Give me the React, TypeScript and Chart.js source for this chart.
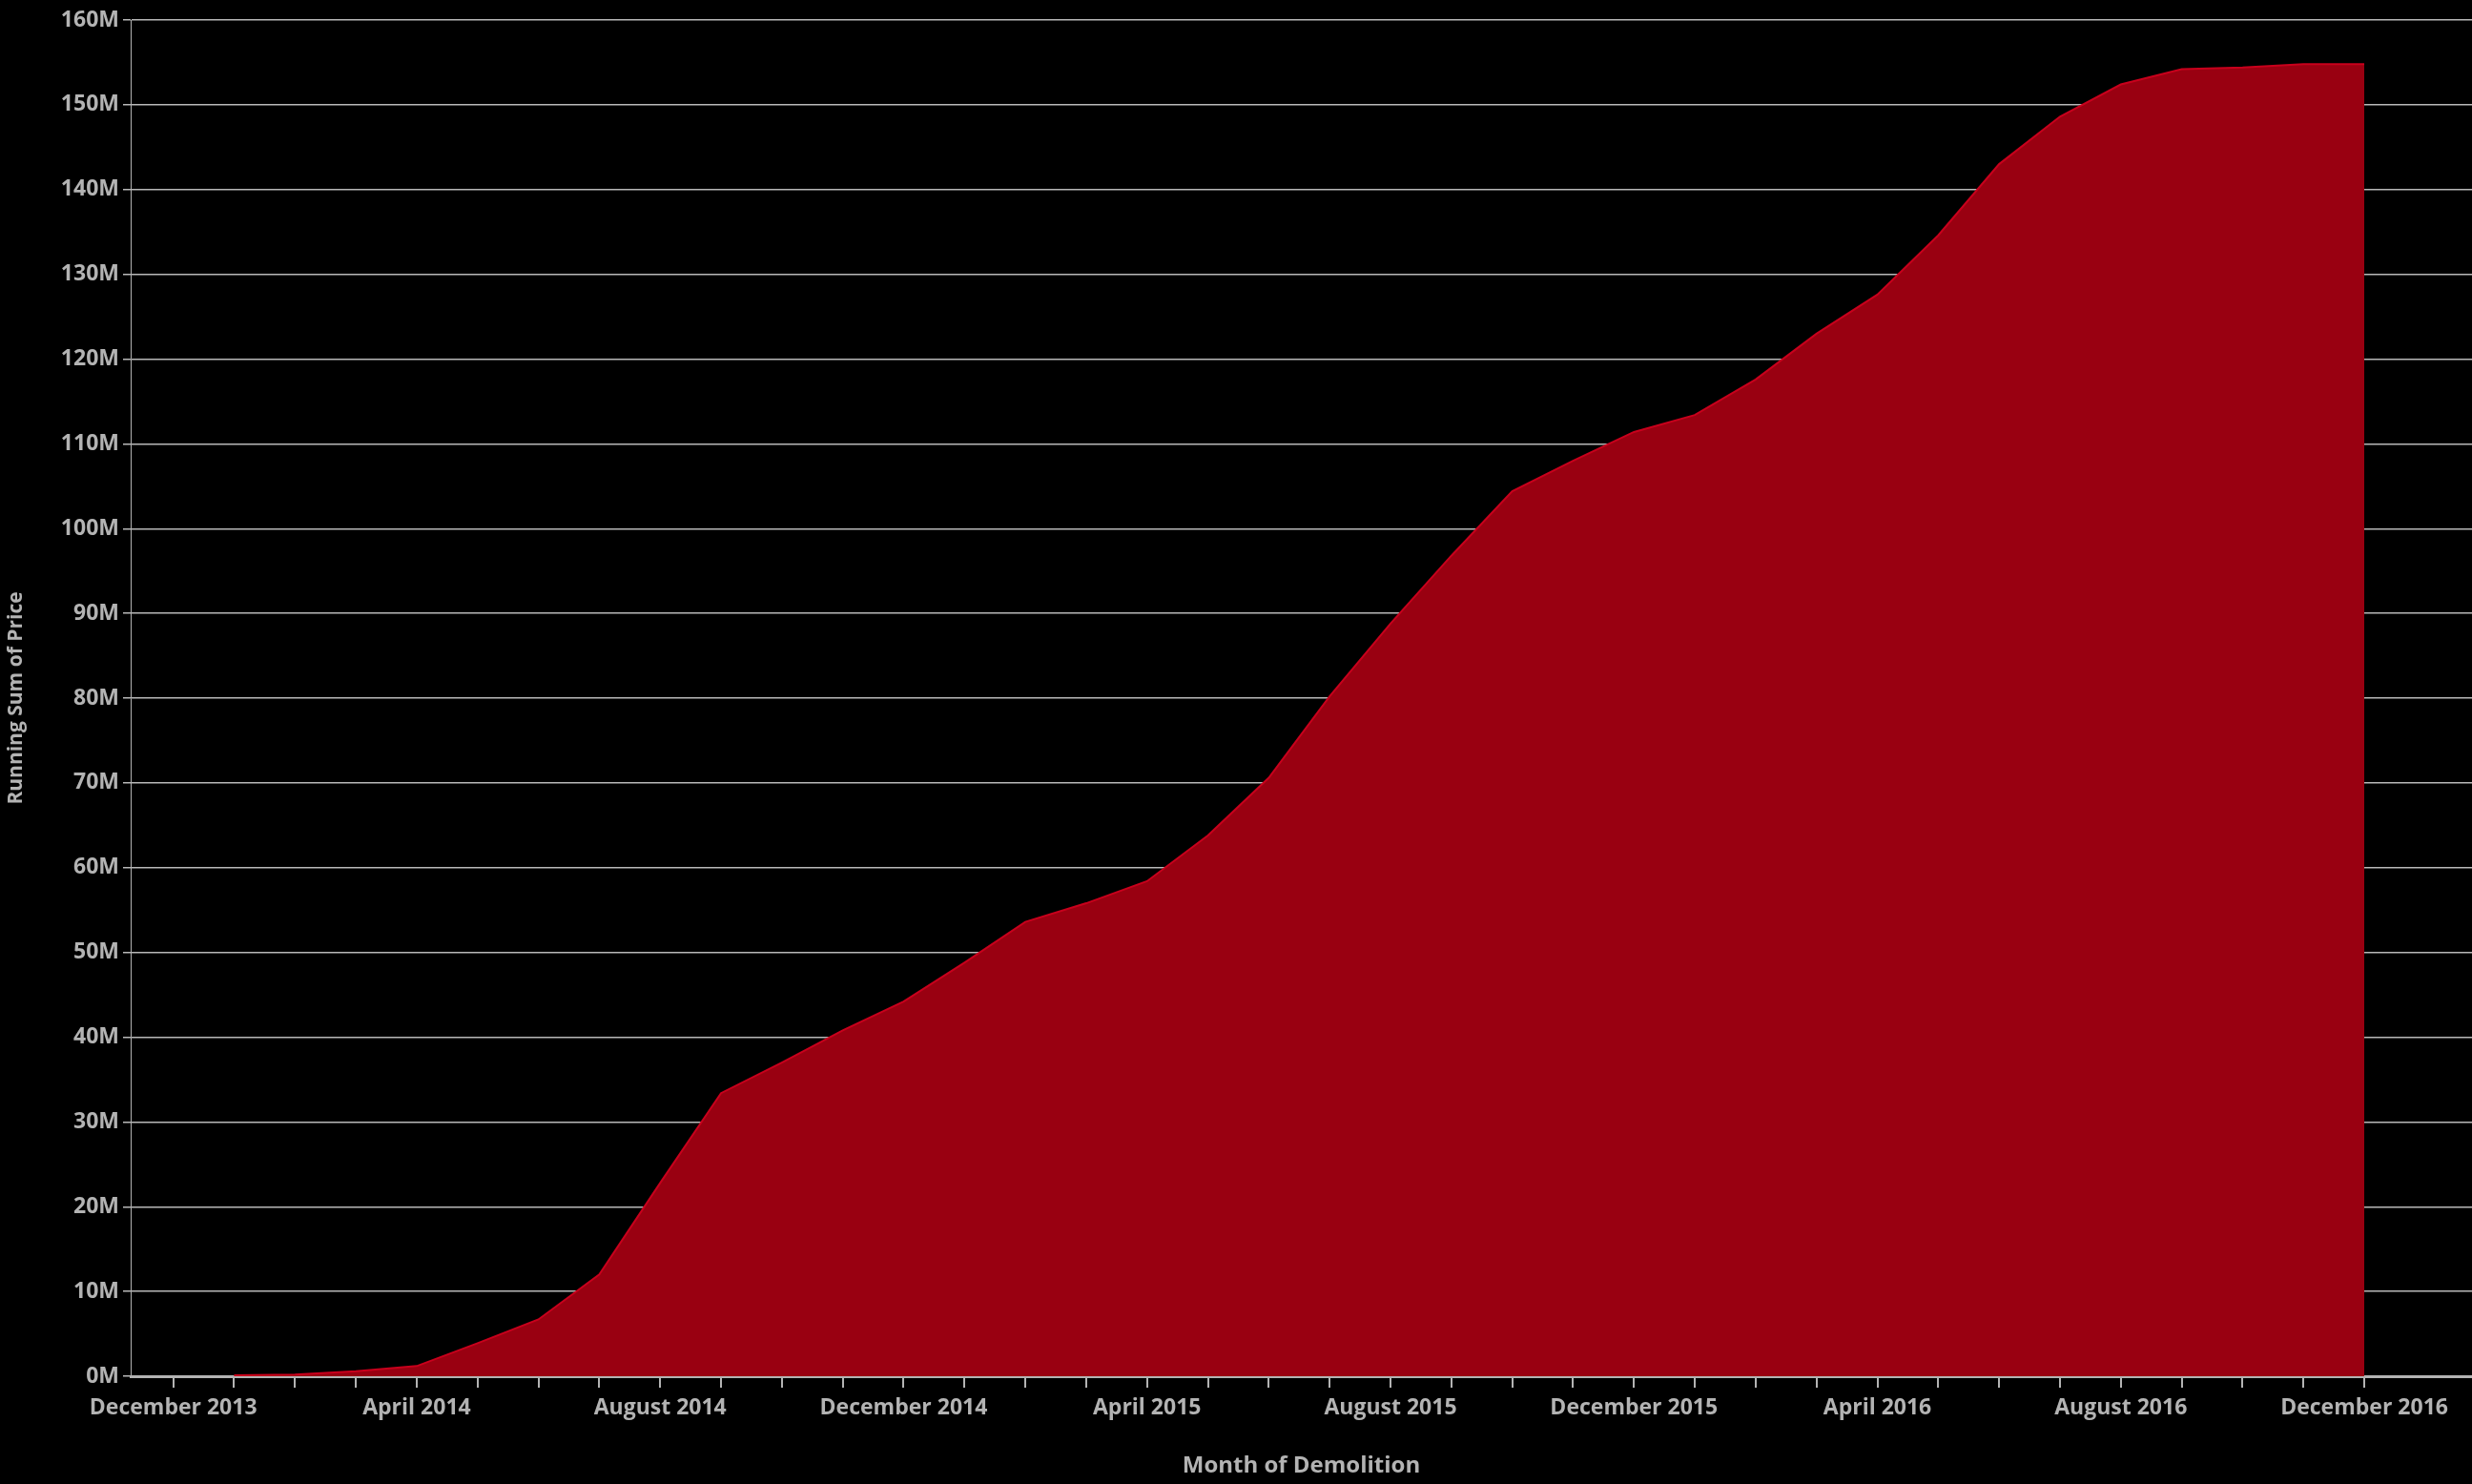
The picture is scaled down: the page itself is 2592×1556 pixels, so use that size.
import React, { useEffect, useRef } from "react";
import { Chart, registerables } from "chart.js";
Chart.register(...registerables);

const months = ["December 2013","January 2014","February 2014","March 2014","April 2014","May 2014","June 2014","July 2014","August 2014","September 2014","October 2014","November 2014","December 2014","January 2015","February 2015","March 2015","April 2015","May 2015","June 2015","July 2015","August 2015","September 2015","October 2015","November 2015","December 2015","January 2016","February 2016","March 2016","April 2016","May 2016","June 2016","July 2016","August 2016","September 2016","October 2016","November 2016","December 2016"];
const runningSumM = [null,0.1,0.2,0.6,1.2,3.9,6.7,12,22.8,33.4,37,40.8,44.2,48.8,53.6,55.8,58.4,63.8,70.6,80.2,88.8,96.8,104.4,108,111.4,113.4,117.6,123,127.6,134.6,143,148.6,152.4,154.2,154.4,154.8,154.8];
const yTicks = [0,10,20,30,40,50,60,70,80,90,100,110,120,130,140,150,160];

export default function App() {
  const ref = useRef<HTMLCanvasElement>(null);
  useEffect(() => {
    const font = { family: "'Open Sans'", size: 23, weight: "bold" as const };
    const pts = runningSumM.map((v, i) => ({ x: i, y: v === null ? null : v * 1e6 }));
    const chart = new Chart(ref.current!, {
      type: "line",
      data: { datasets: [{ data: pts as any, fill: "origin", backgroundColor: "#990011", borderColor: "#c8001c", borderWidth: 2, pointRadius: 0, tension: 0, spanGaps: false }] },
      options: {
        animation: false, responsive: false, maintainAspectRatio: false,
        layout: { padding: { top: 21, right: 0, left: 0, bottom: 0 } },
        plugins: { legend: { display: false }, tooltip: { enabled: false } },
        scales: {
          x: {
            type: "linear", min: -0.7, max: 37.77,
            afterFit: (s: any) => { s.height = 113; },
            afterBuildTicks: (s: any) => { s.ticks = months.map((_, i) => ({ value: i })); },
            ticks: { autoSkip: false, maxRotation: 0, color: "#b3b3b3", font, padding: 8,
              callback: (v: any) => (Number(v) % 4 === 0 ? months[Number(v)] : "") },
            grid: { drawOnChartArea: false, tickLength: 12, color: "#b3b3b3", lineWidth: 2 },
            border: { color: "#b3b3b3", width: 3 },
            title: { display: true, text: "Month of Demolition", color: "#b3b3b3", font: { family: "'Open Sans'", size: 24, weight: "bold" }, padding: { top: 4 } },
          },
          y: {
            min: 0, max: 160e6, z: 1,
            afterFit: (s: any) => { s.width = 137; },
            afterBuildTicks: (s: any) => { s.ticks = yTicks.map((t) => ({ value: t * 1e6 })); },
            ticks: { color: "#b3b3b3", font, padding: 4, callback: (v: any) => Math.round(Number(v) / 1e6) + "M" },
            grid: { color: "rgba(255,255,255,0.72)", lineWidth: 1.5, tickLength: 8 },
            border: { color: "#b3b3b3", width: 1 },
            title: { display: true, text: "Running Sum of Price", color: "#b3b3b3", font: { family: "'Open Sans'", size: 21, weight: "bold" }, padding: { bottom: 6 } },
          },
        },
      },
    });
    return () => chart.destroy();
  }, []);
  return (
    <div style={{ position: "absolute", left: 0, top: 0, width: 2592, height: 1556, background: "#000" }}>
      <canvas ref={ref} width={2592} height={1556} style={{ width: 2592, height: 1556, display: "block" }} />
    </div>
  );
}
